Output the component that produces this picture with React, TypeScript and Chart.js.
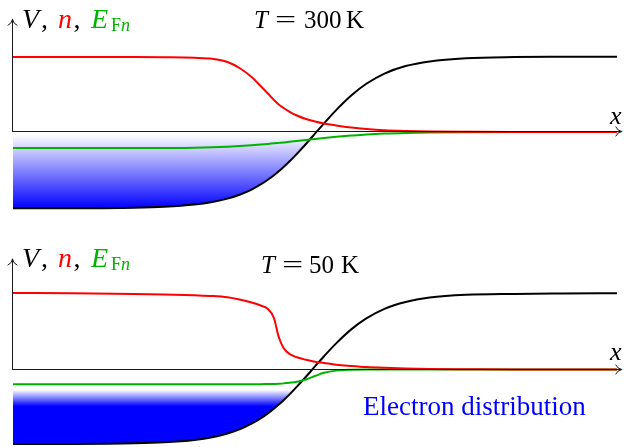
import { useEffect, useRef } from 'react';
import { Chart, registerables } from 'chart.js';

Chart.register(...registerables);

// Position along the device (arbitrary units), shared by every series.
const positions = [0, 1, 2, 2.5, 3.0, 3.3, 3.55, 3.75, 3.95, 4.1, 4.22, 4.32, 4.4, 4.48, 4.58, 4.7, 4.85, 5.0, 5.15, 5.35, 5.6, 5.85, 6.15, 6.5, 6.9, 7.5, 8.3, 9.1, 10];

// T = 300 K
const potential300 = [-1.017, -1.016, -1.009, -0.997, -0.968, -0.933, -0.888, -0.836, -0.767, -0.699, -0.636, -0.576, -0.523, -0.467, -0.391, -0.291, -0.16, -0.021, 0.116, 0.292, 0.487, 0.643, 0.779, 0.879, 0.941, 0.983, 0.999, 1.003, 1.004];
const density300 = [1.0, 1.0, 0.999, 0.996, 0.989, 0.976, 0.933, 0.853, 0.733, 0.613, 0.513, 0.427, 0.367, 0.32, 0.269, 0.22, 0.173, 0.14, 0.113, 0.087, 0.06, 0.04, 0.023, 0.013, 0.007, 0.003, 0, 0, 0];
const quasiFermi300 = [-0.213, -0.213, -0.213, -0.213, -0.209, -0.204, -0.196, -0.187, -0.176, -0.167, -0.159, -0.151, -0.145, -0.139, -0.131, -0.12, -0.107, -0.093, -0.08, -0.064, -0.047, -0.032, -0.02, -0.012, -0.007, -0.003, 0, 0, 0];

// T = 50 K
const potential50 = [-0.993, -0.992, -0.984, -0.971, -0.94, -0.903, -0.853, -0.799, -0.723, -0.653, -0.585, -0.523, -0.467, -0.409, -0.332, -0.229, -0.097, 0.041, 0.177, 0.348, 0.535, 0.681, 0.808, 0.9, 0.959, 0.996, 1.008, 1.013, 1.016];
const density50 = [1.02, 1.016, 1.007, 1.0, 0.989, 0.98, 0.963, 0.933, 0.893, 0.853, 0.807, 0.687, 0.433, 0.287, 0.207, 0.163, 0.129, 0.104, 0.087, 0.064, 0.047, 0.033, 0.023, 0.015, 0.008, 0.004, 0, 0, 0];
const quasiFermi50 = [-0.197, -0.197, -0.197, -0.197, -0.197, -0.197, -0.197, -0.197, -0.197, -0.196, -0.193, -0.192, -0.189, -0.185, -0.177, -0.164, -0.133, -0.087, -0.044, -0.015, -0.003, 0, 0, 0, 0, 0, 0, 0, 0];

const temperatures = ['300', '50'];
const distributionLabel = 'Electron distribution';

const BLACK = '#000000';
const RED = '#ff0000';
const GREEN = 'rgb(0,179,0)';
const BLUE = '#0000ff';
const AXIS = '#1a1a1a';
const SERIF = '"Liberation Serif", "DejaVu Serif", serif';

const X_MIN = -0.2152;
const X_MAX = 10.116;
const X_ARROW = 10.08;

type Piece = { text: string; x: number; y: number; size: number; italic?: boolean; color?: string; sx?: number };

type Panel = {
  height: number;
  top: number;
  potential: number[];
  density: number[];
  quasiFermi: number[];
  yMin: number;
  yMax: number;
  yArrow: number;
  fade: [number, number];
  pieces: Piece[];
};

function axisLabel(base: number): Piece[] {
  return [
    { text: 'V', x: 22, y: base, size: 28, italic: true },
    { text: ',', x: 41, y: base, size: 28 },
    { text: 'n', x: 58, y: base, size: 28, italic: true, color: RED },
    { text: ',', x: 73.5, y: base, size: 28 },
    { text: 'E', x: 91, y: base, size: 28, italic: true, color: GREEN },
    { text: 'F', x: 111, y: base + 3, size: 18, color: GREEN },
    { text: 'n', x: 121, y: base + 3, size: 18, italic: true, color: GREEN },
  ];
}

function tempLabel(base: number, xs: [number, number, number, number], value: string): Piece[] {
  return [
    { text: 'T', x: xs[0], y: base, size: 25, italic: true },
    { text: '=', x: xs[1], y: base, size: 25, sx: 1.5 },
    { text: value, x: xs[2], y: base, size: 25 },
    { text: 'K', x: xs[3], y: base, size: 25 },
  ];
}

const panels: Panel[] = [
  {
    height: 224,
    top: 0,
    potential: potential300,
    density: density300,
    quasiFermi: quasiFermi300,
    yMin: -1.2267,
    yMax: 1.76,
    yArrow: 1.503,
    fade: [-0.04, -1.02],
    pieces: [
      ...axisLabel(28),
      ...tempLabel(28, [254, 275, 304, 346], temperatures[0]),
      { text: 'x', x: 610, y: 124, size: 26, italic: true },
    ],
  },
  {
    height: 223,
    top: 224,
    potential: potential50,
    density: density50,
    quasiFermi: quasiFermi50,
    yMin: -1.0333,
    yMax: 1.94,
    yArrow: 1.473,
    fade: [-0.27, -0.49],
    pieces: [
      ...axisLabel(43),
      ...tempLabel(49, [261, 282, 309, 341], temperatures[1]),
      { text: 'x', x: 610, y: 136, size: 26, italic: true },
      { text: distributionLabel, x: 363, y: 191, size: 27, color: BLUE },
    ],
  },
];

function fillGradient(chart: any, fade: [number, number]) {
  const y = chart.scales?.y;
  if (!y || !chart.chartArea) return BLUE;
  const g = chart.ctx.createLinearGradient(0, y.getPixelForValue(fade[0]), 0, y.getPixelForValue(fade[1]));
  g.addColorStop(0, '#ffffff');
  g.addColorStop(1, BLUE);
  return g;
}

function drawPieces(ctx: CanvasRenderingContext2D, pieces: Piece[]) {
  for (const p of pieces) {
    ctx.save();
    ctx.font = `${p.italic ? 'italic ' : ''}${p.size}px ${SERIF}`;
    ctx.fillStyle = p.color ?? BLACK;
    ctx.textAlign = 'left';
    ctx.textBaseline = 'alphabetic';
    ctx.translate(p.x, p.y);
    if (p.sx) ctx.scale(p.sx, 1);
    ctx.fillText(p.text, 0, 0);
    ctx.restore();
  }
}

function decorPlugin(panel: Panel) {
  return {
    id: 'decor',
    afterDatasetsDraw(chart: any) {
      const { ctx } = chart;
      const xs = chart.scales.x;
      const ys = chart.scales.y;
      const ox = Math.floor(xs.getPixelForValue(0)) + 0.5;
      const oy = Math.floor(ys.getPixelForValue(0)) + 0.5;
      const tipY = ys.getPixelForValue(panel.yArrow);
      const tipX = xs.getPixelForValue(X_ARROW);
      ctx.save();
      ctx.strokeStyle = AXIS;
      ctx.lineWidth = 1;
      ctx.lineCap = 'round';
      ctx.beginPath();
      ctx.moveTo(ox, oy);
      ctx.lineTo(ox, tipY);
      ctx.moveTo(ox, oy);
      ctx.lineTo(tipX, oy);
      ctx.stroke();
      // arrow heads
      ctx.beginPath();
      ctx.moveTo(ox - 4.5, tipY + 6);
      ctx.quadraticCurveTo(ox - 0.8, tipY + 4.5, ox, tipY);
      ctx.quadraticCurveTo(ox + 0.8, tipY + 4.5, ox + 4.5, tipY + 6);
      ctx.moveTo(tipX - 6, oy - 4.5);
      ctx.quadraticCurveTo(tipX - 4.5, oy - 0.8, tipX, oy);
      ctx.quadraticCurveTo(tipX - 4.5, oy + 0.8, tipX - 6, oy + 4.5);
      ctx.stroke();
      ctx.restore();
    },
    afterDraw(chart: any) {
      drawPieces(chart.ctx, panel.pieces);
    },
  };
}

function makeChart(canvas: HTMLCanvasElement, panel: Panel) {
  const pts = (ys: number[]) => positions.map((x, i) => ({ x, y: ys[i] }));
  return new Chart(canvas, {
    type: 'line',
    data: {
      datasets: [
        { label: 'n', data: pts(panel.density), borderColor: RED, borderWidth: 2, fill: false, order: 1 },
        { label: 'EFn', data: pts(panel.quasiFermi), borderColor: GREEN, borderWidth: 2, fill: false, order: 2 },
        {
          label: 'V',
          data: pts(panel.potential),
          borderColor: BLACK,
          borderWidth: 2,
          order: 3,
          fill: { target: 'origin', above: 'rgba(0,0,0,0)' },
          backgroundColor: (c: any) => fillGradient(c.chart, panel.fade),
        },
      ],
    } as any,
    options: {
      responsive: false,
      maintainAspectRatio: false,
      animation: false,
      events: [],
      layout: { padding: 0 },
      elements: {
        point: { radius: 0 },
        line: { cubicInterpolationMode: 'monotone' },
      },
      scales: {
        x: { type: 'linear', min: X_MIN, max: X_MAX, display: false },
        y: { type: 'linear', min: panel.yMin, max: panel.yMax, display: false },
      },
      plugins: { legend: { display: false }, tooltip: { enabled: false } },
    } as any,
    plugins: [decorPlugin(panel)],
  });
}

export default function App() {
  const topRef = useRef<HTMLCanvasElement>(null);
  const bottomRef = useRef<HTMLCanvasElement>(null);

  useEffect(() => {
    const charts = [makeChart(topRef.current!, panels[0]), makeChart(bottomRef.current!, panels[1])];
    return () => charts.forEach((c) => c.destroy());
  }, []);

  return (
    <div style={{ position: 'absolute', left: 0, top: 0, width: 624, height: 447, background: '#ffffff' }}>
      <canvas
        ref={topRef}
        width={624}
        height={panels[0].height}
        style={{ position: 'absolute', left: 0, top: panels[0].top, width: 624, height: panels[0].height }}
      />
      <canvas
        ref={bottomRef}
        width={624}
        height={panels[1].height}
        style={{ position: 'absolute', left: 0, top: panels[1].top, width: 624, height: panels[1].height }}
      />
    </div>
  );
}
